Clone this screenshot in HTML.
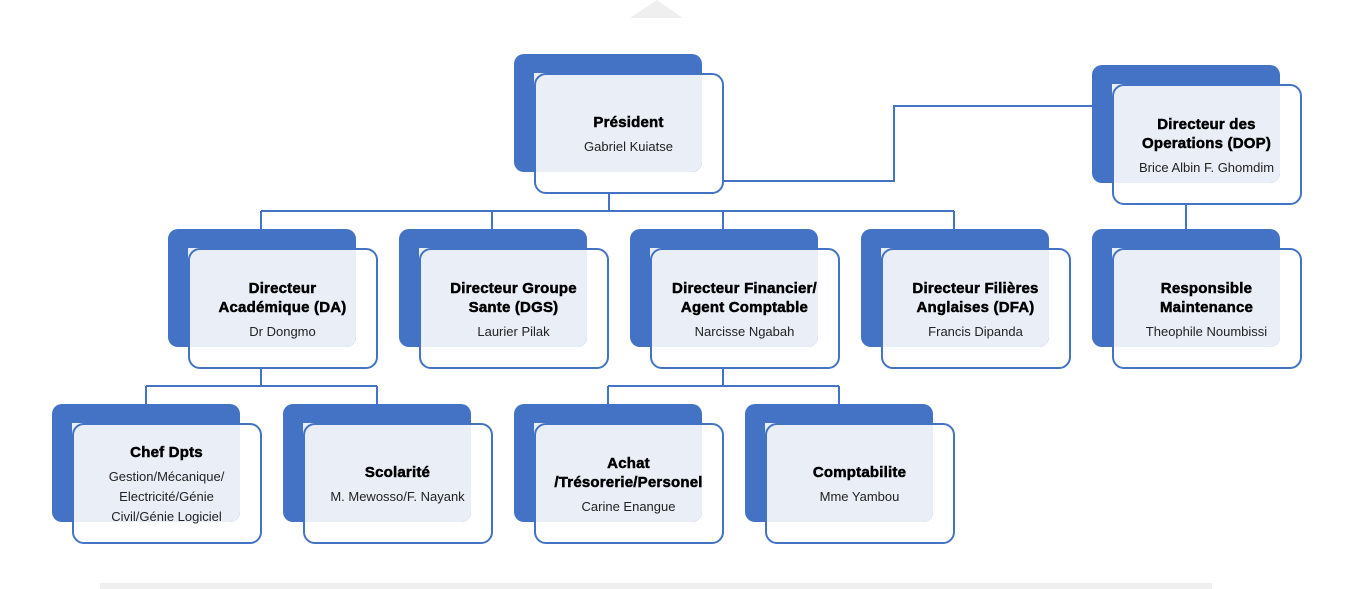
<!DOCTYPE html>
<html><head><meta charset="utf-8"><style>
body{margin:0;width:1362px;height:589px;background:#fff;position:relative;overflow:hidden;font-family:"Liberation Sans",sans-serif}
.b{position:absolute;width:188px;height:118px;background:#4472c4;border-radius:10px}
.f{position:absolute;width:186px;height:117px;border:2px solid #4472c4;border-radius:12px;background:transparent}
.o{position:absolute;width:168px;height:99px;background:#e9eef7;border-radius:0 0 10px 0}
.t{position:absolute;width:189px;height:120px;display:flex;flex-direction:column;justify-content:center;align-items:center;text-align:center;color:#000}
.t b{font-size:15px;line-height:19px;font-weight:bold;-webkit-text-stroke:0.5px #000;letter-spacing:0.2px}
.t span{font-size:13px;line-height:20px;margin-top:5px;color:#222}
</style></head><body>
<svg style="position:absolute;left:0;top:0" width="1362" height="589">
<polygon points="630,18 683,18 657,0" fill="#efefef"/>
<rect x="100" y="583" width="1112" height="6" fill="#efefef"/>
<g stroke="#4472c4" stroke-width="2" fill="none">
<path d="M609 193V211M261 211H954M261 211V248M492 211V248M723 211V248M954 211V248"/>
<path d="M723 181H894V106H1092"/>
<path d="M1186 203V248"/>
<path d="M261 368V386M146 386H377M146 386V424M377 386V424"/>
<path d="M723 368V386M608 386H839M608 386V424M839 386V424"/>
</g></svg>
<div id="n"></div>
<script>
var N=[[514,54,"Président","Gabriel Kuiatse"],[1092,65,"Directeur des<br>Operations (DOP)","Brice Albin F. Ghomdim"],
[168,229,"Directeur<br>Académique (DA)","Dr Dongmo"],[399,229,"Directeur Groupe<br>Sante (DGS)","Laurier Pilak"],
[630,229,"Directeur Financier/<br>Agent Comptable","Narcisse Ngabah"],[861,229,"Directeur Filières<br>Anglaises (DFA)","Francis Dipanda"],
[1092,229,"Responsible<br>Maintenance","Theophile Noumbissi"],[52,404,"Chef Dpts","Gestion/Mécanique/<br>Electricité/Génie<br>Civil/Génie Logiciel"],
[283,404,"Scolarité","M. Mewosso/F. Nayank"],[514,404,"Achat<br>/Trésorerie/Personel","Carine Enangue"],[745,404,"Comptabilite","Mme Yambou"]];
var h="";N.forEach(function(a){var x=a[0],y=a[1];
h+='<div class="b" style="left:'+x+'px;top:'+y+'px"></div><div class="o" style="left:'+(x+20)+'px;top:'+(y+19)+'px"></div><div class="f" style="left:'+(x+20)+'px;top:'+(y+19)+'px"></div><div class="t" style="left:'+(x+20)+'px;top:'+(y+21)+'px"><b>'+a[2]+'</b><span>'+a[3]+'</span></div>';});
document.getElementById("n").innerHTML=h;
</script>
</body></html>
